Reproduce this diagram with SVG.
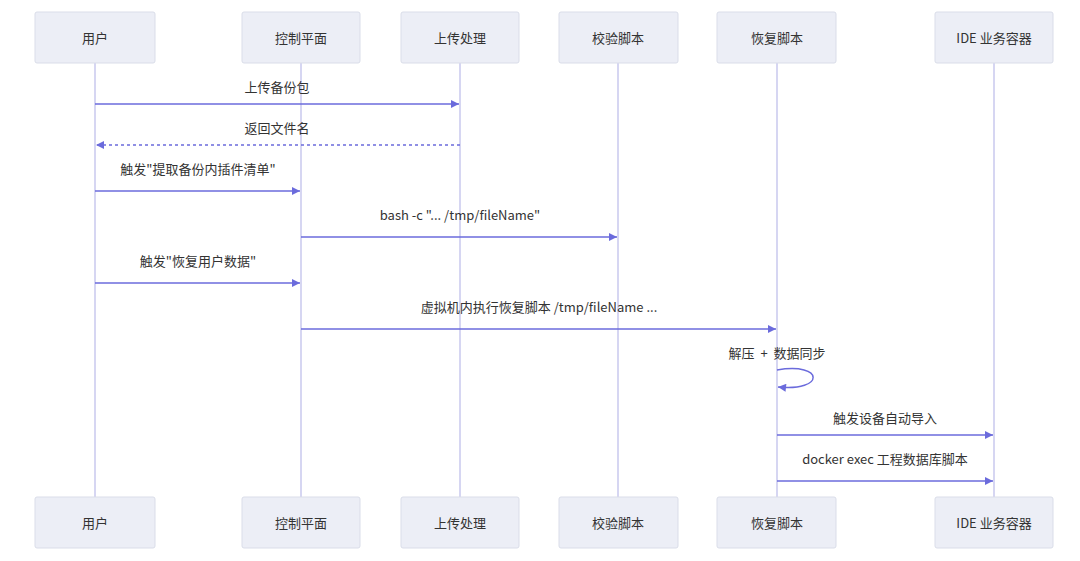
<svg xmlns="http://www.w3.org/2000/svg" width="1080" height="561" viewBox="0 0 1080 561">
<style>
.box{fill:#eceef6;stroke:#dadde9;stroke-width:1}
.life{stroke:#c8c8ee;stroke-width:1.5;fill:none}
.t{font-family:"Noto Sans CJK SC","Noto Sans",sans-serif;font-size:13px;fill:#333;text-anchor:middle;dominant-baseline:central}
.msg{stroke:#6b6bdc;stroke-width:1.5;fill:none}
.dash{stroke-dasharray:3,3}
</style>
<defs>
<marker id="ah" viewBox="0 0 10 10" refX="10" refY="5" markerWidth="10" markerHeight="8" markerUnits="userSpaceOnUse" orient="auto">
<path d="M0,0 L10,5 L0,10 z" fill="#6b6bdc"/>
</marker>
</defs>
<rect width="1080" height="561" fill="#ffffff"/>
<g id="lifelines">
<line class="life" x1="95" y1="63" x2="95" y2="497"/>
<line class="life" x1="301" y1="63" x2="301" y2="497"/>
<line class="life" x1="460" y1="63" x2="460" y2="497"/>
<line class="life" x1="618" y1="63" x2="618" y2="497"/>
<line class="life" x1="777" y1="63" x2="777" y2="497"/>
<line class="life" x1="994" y1="63" x2="994" y2="497"/>
</g>
<g id="user"><rect class="box" x="35" y="12" width="120" height="51" rx="2"/><text class="t" x="95" y="37">用户</text></g>
<g id="control"><rect class="box" x="242" y="12" width="118" height="51" rx="2"/><text class="t" x="301" y="37">控制平面</text></g>
<g id="upload"><rect class="box" x="401" y="12" width="118" height="51" rx="2"/><text class="t" x="460" y="37">上传处理</text></g>
<g id="verify"><rect class="box" x="559" y="12" width="119" height="51" rx="2"/><text class="t" x="618" y="37">校验脚本</text></g>
<g id="restore"><rect class="box" x="717" y="12" width="119" height="51" rx="2"/><text class="t" x="777" y="37">恢复脚本</text></g>
<g id="ide"><rect class="box" x="935" y="12" width="118" height="51" rx="2"/><text class="t" x="994" y="37">IDE 业务容器</text></g>
<g id="user-bottom"><rect class="box" x="35" y="497" width="120" height="51" rx="2"/><text class="t" x="95" y="522">用户</text></g>
<g id="control-bottom"><rect class="box" x="242" y="497" width="118" height="51" rx="2"/><text class="t" x="301" y="522">控制平面</text></g>
<g id="upload-bottom"><rect class="box" x="401" y="497" width="118" height="51" rx="2"/><text class="t" x="460" y="522">上传处理</text></g>
<g id="verify-bottom"><rect class="box" x="559" y="497" width="119" height="51" rx="2"/><text class="t" x="618" y="522">校验脚本</text></g>
<g id="restore-bottom"><rect class="box" x="717" y="497" width="119" height="51" rx="2"/><text class="t" x="777" y="522">恢复脚本</text></g>
<g id="ide-bottom"><rect class="box" x="935" y="497" width="118" height="51" rx="2"/><text class="t" x="994" y="522">IDE 业务容器</text></g>
<g id="connectors">
<line class="msg" x1="95" y1="104" x2="459" y2="104" marker-end="url(#ah)"/>
<text class="t" x="277" y="86">上传备份包</text>
<line class="msg dash" x1="460" y1="145" x2="96" y2="145" marker-end="url(#ah)"/>
<text class="t" x="277" y="127">返回文件名</text>
<line class="msg" x1="95" y1="191" x2="300" y2="191" marker-end="url(#ah)"/>
<text class="t" x="198" y="168">触发"提取备份内插件清单"</text>
<line class="msg" x1="301" y1="237" x2="617" y2="237" marker-end="url(#ah)"/>
<text class="t" x="460" y="214">bash -c "... /tmp/fileName"</text>
<line class="msg" x1="95" y1="283" x2="300" y2="283" marker-end="url(#ah)"/>
<text class="t" x="198" y="260">触发"恢复用户数据"</text>
<line class="msg" x1="301" y1="329" x2="776" y2="329" marker-end="url(#ah)"/>
<text class="t" x="539" y="306">虚拟机内执行恢复脚本 /tmp/fileName ...</text>
<path class="msg" d="M777,370 C825,362 825,392 778,387" marker-end="url(#ah)"/>
<text class="t" x="777" y="352" xml:space="preserve">解压  +  数据同步</text>
<line class="msg" x1="777" y1="435" x2="993" y2="435" marker-end="url(#ah)"/>
<text class="t" x="885" y="417">触发设备自动导入</text>
<line class="msg" x1="777" y1="481" x2="993" y2="481" marker-end="url(#ah)"/>
<text class="t" x="885" y="458">docker exec 工程数据库脚本</text>
</g>
</svg>
